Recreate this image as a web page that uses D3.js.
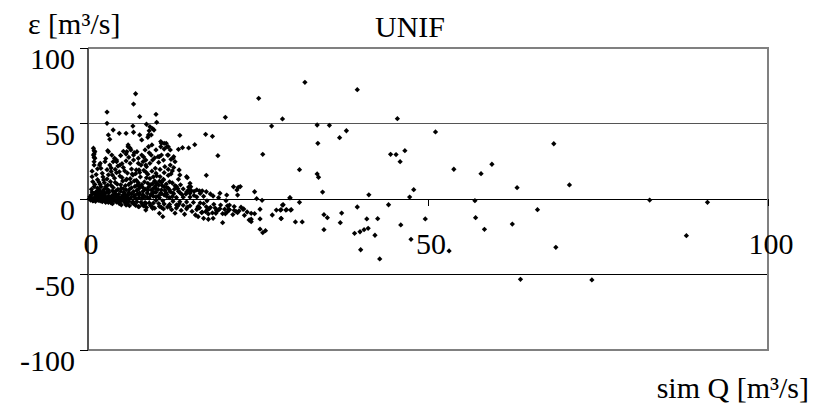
<!DOCTYPE html>
<html>
<head>
<meta charset="utf-8">
<script src="https://cdn.jsdelivr.net/npm/d3@7"></script>
</head>
<body style="margin:0">
<svg id="chart" width="823" height="410" style="font-family: 'Liberation Serif'"></svg>
<script>
// axis ticks and labels
const xTicks = [0, 50, 100];
const yTicks = [-100, -50, 0, 50, 100];
const gridValues = [50, 0, -50];
const chartTitle = "UNIF";
const yTitle = "ε [m³/s]";
const xTitle = "sim Q [m³/s]";

// simulated discharge vs. error
const points = [
    // band along zero
    [0.2,0.1],[0.4,-0.2],[0.6,0.3],[0.8,-0.3],[1.0,0.5],[1.2,-0.4],[1.4,0.2],[1.6,-0.6],[1.8,0.8],[2.0,-0.5],
    [2.2,0.3],[2.4,-0.8],[2.6,1.0],[2.8,-0.7],[3.0,0.4],[3.2,-1.0],[3.4,1.3],[3.6,-0.9],[3.8,0.5],[4.0,-1.2],
    [4.2,1.6],[4.4,-1.1],[4.6,0.6],[4.8,-1.4],[5.0,1.9],[5.2,-1.3],[5.4,0.7],[5.6,-1.6],[5.8,2.2],[6.0,-1.5],
    [6.3,0.8],[6.6,-1.8],[6.9,2.5],[7.2,-1.9],[7.5,1.0],[7.8,-2.2],[8.1,2.8],[8.4,-2.4],[8.7,1.2],[9.0,-2.6],
    [9.3,3.1],[9.6,-2.8],[10.0,1.4],[10.4,-3.0],[10.8,3.5],[11.2,-3.3],[11.6,1.6],[12.0,-3.6],[12.5,3.9],[13.0,-3.9],
    [13.5,4.3],[14.0,-4.2],[14.5,4.7],[15.0,-4.5],[15.6,5.0],[16.2,-4.9],[16.8,5.4],[17.4,-5.2],[18.0,-5.6],[18.7,-6.0],
    [19.4,-6.4],[20.1,-6.8],[20.8,-7.2],[21.5,-7.5],[22.2,-7.9],
    [0.3,1.5],[0.5,2.8],[0.7,-1.2],[0.9,3.5],[1.1,-1.5],[1.3,4.2],[1.5,1.8],[1.7,5.5],[1.9,2.6],[2.1,-1.8],[2.3,6.2],
    [0.5,0.8],[1.0,1.2],[1.5,-0.9],[2.0,1.6],[2.5,-1.4],[3.0,2.0],[3.5,-1.8],[4.0,2.4],[4.5,-2.1],[5.0,0.2],
    [5.5,2.9],[6.0,0.3],[6.5,-2.6],[7.0,0.4],[7.5,3.3],[8.0,0.5],[8.5,-3.0],[9.0,0.6],[9.5,3.8],[10.0,-1.0],
    [10.5,0.8],[11.0,-1.2],[11.5,4.1],[12.0,0.9],[12.5,-1.5],[13.0,1.0],[13.5,-1.8],[14.0,1.2],[14.5,-2.0],[15.0,1.3],
    [15.5,-2.3],[16.0,1.4],[16.5,-2.6],[17.0,-3.0],[17.5,-1.2],[18.5,-3.5],[19.5,-4.0],[20.5,-4.5],[21.5,-5.0],[22.5,-5.4],
    [0.4,-0.8],[0.8,-1.0],[1.8,-1.3],[2.6,-2.2],[3.4,-2.6],[4.6,-3.0],[5.8,-3.4],[7.0,-4.2],[8.2,-4.6],[9.4,-5.2],
    [10.8,-5.6],[12.0,-5.0],[13.2,-4.6],[14.6,-5.4],[16.4,-5.8],[17.8,-6.6],[19.2,-7.2],[20.2,-9.8],[21.8,-8.4],[23.4,-8.6],
    // dense blob
    [2.5,3.5],[2.7,6.8],[2.9,9.2],[3.1,4.4],[3.3,11.5],[3.5,2.1],[3.7,7.6],[3.9,13.8],[4.1,5.3],[4.3,9.8],
    [4.5,3.0],[4.7,15.2],[4.9,7.1],[5.1,11.9],[5.3,4.2],[5.5,8.8],[5.7,13.1],[5.9,2.7],[6.1,6.4],[6.3,10.7],
    [6.5,16.5],[6.7,4.9],[6.9,8.3],[7.1,12.4],[7.3,3.6],[7.5,6.9],[7.7,14.6],[7.9,9.5],[8.1,5.2],[8.3,11.3],
    [8.5,17.8],[8.7,3.9],[8.9,7.7],[9.1,13.5],[9.3,6.0],[9.5,10.2],[9.7,4.5],[9.9,8.6],[10.1,15.4],[10.3,6.3],
    [10.5,11.8],[10.7,4.0],[10.9,8.9],[11.1,13.0],[11.3,5.6],[11.5,9.9],[11.8,7.2],[12.1,4.8],[12.4,10.6],[12.7,6.5],
    [13.0,8.2],[13.3,5.1],[13.6,9.4],[14.0,6.7],[14.4,3.3],[14.8,7.9],[15.2,5.5],[15.6,2.4],[16.0,6.1],[16.5,3.7],[17.0,1.8],
    [2.2,4.8],[2.6,8.1],[3.0,5.9],[3.4,9.0],[3.8,3.2],[4.0,11.0],[4.4,6.4],[4.8,9.4],[5.2,2.6],[5.6,6.0],
    [6.0,9.6],[6.4,3.2],[6.8,12.0],[7.2,5.8],[7.6,8.6],[8.0,2.4],[8.4,6.6],[8.8,10.4],[9.2,2.8],[9.6,7.0],
    [10.0,4.4],[10.4,9.2],[10.8,6.0],[11.2,2.6],[11.6,7.6],[12.0,11.4],[12.6,3.4],[13.2,6.8],[13.8,3.0],[5.0,14.2],
    [6.2,13.4],[7.4,10.8],[8.6,14.0],[9.8,12.0],[4.2,17.4],[5.4,18.6],[3.6,15.8],[2.8,13.2],[2.4,10.8],[1.8,9.6],
    [1.2,2.2],[1.6,3.0],[2.0,3.8],[2.4,2.4],[2.8,4.6],[3.2,1.2],[3.6,5.4],[4.0,3.6],[4.4,1.0],[4.8,5.0],
    [5.2,6.8],[5.6,1.0],[6.0,4.4],[6.4,7.4],[6.8,1.6],[7.2,9.0],[7.6,4.0],[8.0,7.8],[8.4,1.4],[8.8,5.8],
    [9.2,9.4],[9.6,1.8],[10.0,6.8],[10.4,2.2],[10.8,11.0],[11.2,8.0],[11.6,3.0],[12.0,6.0],[12.4,1.6],[12.8,8.8],
    [3.4,20.6],[4.0,19.6],[4.6,18.0],[5.2,20.8],[5.8,17.2],[6.4,19.8],[7.0,16.8],[7.6,17.6],[8.2,19.0],[8.8,16.4],
    [9.4,18.4],[10.0,17.0],[10.6,19.6],[11.2,17.4],[11.8,15.6],[12.4,18.6],[4.4,21.8],[5.0,23.4],[5.6,25.2],[9.6,14.6],
    [3.0,16.0],[2.2,14.6],[1.6,11.2],[1.0,9.6],[0.6,4.6],[1.4,7.2],
    [4.8,28.8],[5.2,31.6],[7.4,27.0],[8.2,27.8],[9.0,30.6],[9.8,27.2],[10.4,24.2],[11.8,19.6],[12.6,20.8],[13.4,19.2],
    [3.0,-2.3],[3.6,-3.1],[4.2,-2.0],[4.9,-3.8],[5.5,-2.7],[6.1,-4.4],[6.8,-3.3],[7.4,-5.0],[8.0,-3.9],[8.6,-5.6],
    [9.2,-4.3],[9.8,-6.1],[10.5,-4.8],[11.1,-6.6],[11.7,-5.3],[12.3,-7.1],[13.0,-6.0],[13.7,-7.6],[14.5,-6.5],[15.3,-8.2],
    [16.0,-7.0],[16.8,-8.7],[17.5,-7.4],[18.3,-9.2],[19.0,-8.0],[19.8,-9.7],[20.5,-8.5],[21.3,-10.3],[22.0,-9.0],[23.0,-10.8],[24.0,-9.5],
    [5.6,-4.0],[7.5,-5.1],[8.5,-7.3],[9.5,-6.2],[10.5,-9.5],[11.0,-11.7],[12.8,-9.4],[14.2,-10.1],[15.8,-10.6],[13.4,-3.2],
    // 12-24 around zero
    [15.0,10.4],[15.1,8.1],[14.8,6.0],[15.0,3.8],[16.4,5.3],[17.4,4.8],[18.0,3.3],[18.4,2.0],[22.1,7.7],[22.0,2.6],
    [19.2,0.9],[20.3,-1.1],[20.8,-4.0],[20.7,-6.8],[22.8,-6.8],[18.9,-7.7],[18.8,-9.5],[17.3,-8.4],[17.7,-9.9],[16.1,-6.2],
    [16.7,-9.0],[16.2,-11.7],[17.0,-12.8],[17.7,-13.4],[18.4,-12.8],[19.8,-15.7],[23.7,-13.9],
    [21.4,8.1],[21.9,6.0],[19.4,3.8],[20.4,2.6],[12.2,16.6],[13.3,13.0],[14.6,14.1],[17.4,15.7],
    [10.6,14.8],[11.1,12.6],[10.1,10.4],[13.5,15.9],[14.5,14.8],
    // left edge column
    [0.9,32.0],[0.9,29.8],[0.9,27.6],[0.9,24.7],[0.9,22.5],[1.7,22.5],[1.9,20.3],[2.1,17.0],[2.3,12.6],[1.9,8.1],
    [1.6,6.0],[0.6,14.8],[0.7,11.5],[0.9,8.1],[1.2,4.8],[0.8,33.6],[1.0,31.3],[0.8,29.1],[1.0,27.0],
    [1.8,23.6],[2.5,24.7],[3.2,22.5],[3.7,24.7],[3.0,31.3],[3.5,29.1],[4.2,25.8],[4.7,22.5],
    [0.6,18.4],[1.2,16.2],[1.4,12.8],[0.5,6.4],[1.4,20.0],[2.8,19.4],[3.4,18.2],[2.6,26.8],
    // upper spread
    [2.8,57.6],[2.8,50.1],[7.0,69.7],[6.7,62.9],[7.6,54.5],[10.0,56.1],[10.1,50.8],[8.6,49.5],[9.1,47.9],[9.5,46.6],
    [9.7,45.7],[6.6,48.3],[4.6,43.5],[5.6,43.5],[6.7,44.2],[7.6,42.4],[3.0,42.4],[3.2,39.5],[3.7,45.7],[9.0,45.2],
    [9.3,42.4],[8.8,40.9],[5.9,34.6],[6.3,32.5],[5.6,29.8],[6.0,27.6],[6.8,30.7],[2.9,32.0],[3.9,27.0],[4.2,24.7],
    [7.1,19.2],[7.8,22.5],[8.5,25.8],[9.3,29.1],[10.0,32.5],[10.7,34.6],[11.5,36.9],
    [5.6,12.6],[6.6,15.9],[7.5,19.2],[8.5,22.5],[9.5,25.8],[10.5,28.0],
    [7.9,39.1],[8.9,42.4],[5.9,35.8],[6.2,33.6],[5.7,31.3],[6.7,29.1],[7.2,31.3],
    [7.9,29.1],[8.4,32.5],[8.9,34.6],[9.4,35.8],[10.8,36.9],[11.6,34.6],[12.1,32.5],
    [6.2,23.6],[6.7,25.8],[7.4,23.6],[8.1,24.7],[8.6,21.4],[9.1,23.6],[9.9,20.3],[11.3,21.4],[12.1,22.5],[12.8,24.7],
    [10.3,28.0],[11.1,25.8],[11.8,29.1],[12.5,27.0],
    [10.7,38.0],[11.2,36.9],[11.8,34.6],[11.2,33.1],[10.8,29.1],[11.7,29.1],
    [13.5,42.2],[17.3,42.8],[18.3,41.5],[15.7,36.0],[14.8,33.8],[13.9,34.0],[13.3,32.9],[19.1,28.7],[12.6,28.0],[12.2,26.3],
    [20.2,54.1],
    // 22 to 55
    [25.1,66.7],[27.0,48.3],[25.7,29.6],[24.5,4.8],[22.4,8.2],[29.7,0.9],[24.8,0.2],[25.6,-0.9],[22.9,-6.6],[24.5,-9.7],
    [24.0,-13.4],[24.0,-15.0],[25.3,-6.8],[25.3,-13.2],[27.1,-10.6],[27.7,-7.3],[28.3,-7.3],[29.1,-7.3],[29.8,-7.3],
    [28.6,-4.0],[28.4,-12.8],[25.3,-20.0],[25.7,-22.3],[26.1,-21.0],
    [31.9,77.3],[39.6,72.4],[28.6,53.0],[45.5,53.2],[33.7,49.0],[35.5,48.8],[38.0,45.2],[37.0,40.6],[51.1,44.4],
    [33.8,36.9],[44.5,29.6],[45.3,29.4],[46.6,32.0],[45.9,24.7],[31.1,19.4],[33.7,16.6],[33.9,14.4],[53.8,19.7],
    [57.8,16.8],[59.4,23.0],[63.1,7.5],[70.8,9.3],[34.5,4.6],[41.3,2.8],[47.9,6.2],[47.3,1.3],[29.7,0.7],
    [31.1,-2.2],[28.7,-3.8],[28.4,-7.1],[29.2,-7.1],[29.9,-7.1],[28.4,-13.0],[30.5,-15.2],[31.5,-15.2],
    [34.7,-10.4],[35.2,-12.4],[34.7,-20.3],[37.3,-9.3],[37.1,-15.7],[39.6,-5.3],[41.0,-13.2],[42.6,-13.0],
    [39.2,-22.7],[40.0,-21.7],[40.6,-20.3],[41.2,-19.4],[42.2,-24.0],[40.1,-33.6],[42.9,-39.7],[44.2,-3.8],
    [46.0,-17.2],[49.6,-13.2],[47.5,-26.7],[53.1,-34.4],
    // right side
    [56.9,-1.1],[57.0,-12.4],[58.3,-20.1],[62.4,-16.6],[66.1,-7.1],[68.8,-32.0],[63.6,-53.2],[68.5,36.6],
    [82.6,-0.7],[91.1,-2.2],[88.0,-24.3],[74.1,-53.6]
];

/** Class implementing the scatter view. */
class ScatterChart {
    constructor() {
        this.svg = d3.select("svg#chart");
        this.x = d3.scaleLinear().domain([0, 100]).range([88, 768]);
        this.y = d3.scaleLinear().domain([-100, 100]).range([350, 48]);
    }

    /**
     * Adds one text in the chart font
     */
    addText(x, y, anchor, content) {
        return this.svg.append("text")
            .attr("x", x).attr("y", y)
            .attr("text-anchor", anchor)
            .style("font-family", "'Liberation Serif'")
            .style("font-size", "30px")
            .text(content);
    }

    drawFrame() {
        let x = this.x, y = this.y;
        let frame = this.svg.append("g").attr("shape-rendering", "crispEdges");

        // horizontal gridlines
        frame.selectAll(".grid").data(gridValues).enter()
            .append("line")
            .attr("x1", x(0)).attr("x2", x(100))
            .attr("y1", d => y(d)).attr("y2", d => y(d))
            .attr("stroke", d => d === 50 ? "#555" : "#000")
            .attr("stroke-width", 1);

        // plot border top, right, bottom
        frame.append("path")
            .attr("d", `M${x(0)},${y(100)}H${x(100)}V${y(-100)}H${x(0)}`)
            .attr("fill", "none")
            .attr("stroke", "#808080")
            .attr("stroke-width", 1.5);

        // y axis line and ticks
        frame.append("line")
            .attr("x1", x(0)).attr("x2", x(0))
            .attr("y1", y(100)).attr("y2", y(-100))
            .attr("stroke", "#555").attr("stroke-width", 1.5);
        frame.selectAll(".ytick").data(yTicks).enter()
            .append("line")
            .attr("x1", x(0) - 8).attr("x2", x(0))
            .attr("y1", d => y(d)).attr("y2", d => y(d))
            .attr("stroke", "#000");

        // x ticks hang below the zero line
        frame.selectAll(".xtick").data(xTicks.slice(1)).enter()
            .append("line")
            .attr("x1", d => x(d)).attr("x2", d => x(d))
            .attr("y1", y(0)).attr("y2", y(0) + 7)
            .attr("stroke", "#000");

        // tick labels
        yTicks.forEach(d => this.addText(75, y(d) + 21, "end", d));
        xTicks.forEach(d => this.addText(x(d) + 3, y(0) + 55, "middle", d));

        // titles
        this.addText(410, 37, "middle", chartTitle);
        this.addText(28, 34, "start", yTitle);
        this.addText(809, 398, "end", xTitle);
    }

    drawPoints() {
        let x = this.x, y = this.y;
        let marker = d3.symbol().type(d3.symbolSquare).size(14);
        this.svg.append("g").selectAll("path").data(points).enter()
            .append("path")
            .attr("d", marker)
            .attr("transform", d => `translate(${x(d[0])},${y(d[1])}) rotate(45)`)
            .attr("fill", "#000");
    }
}

let chart = new ScatterChart();
chart.drawFrame();
chart.drawPoints();
</script>
</body>
</html>
